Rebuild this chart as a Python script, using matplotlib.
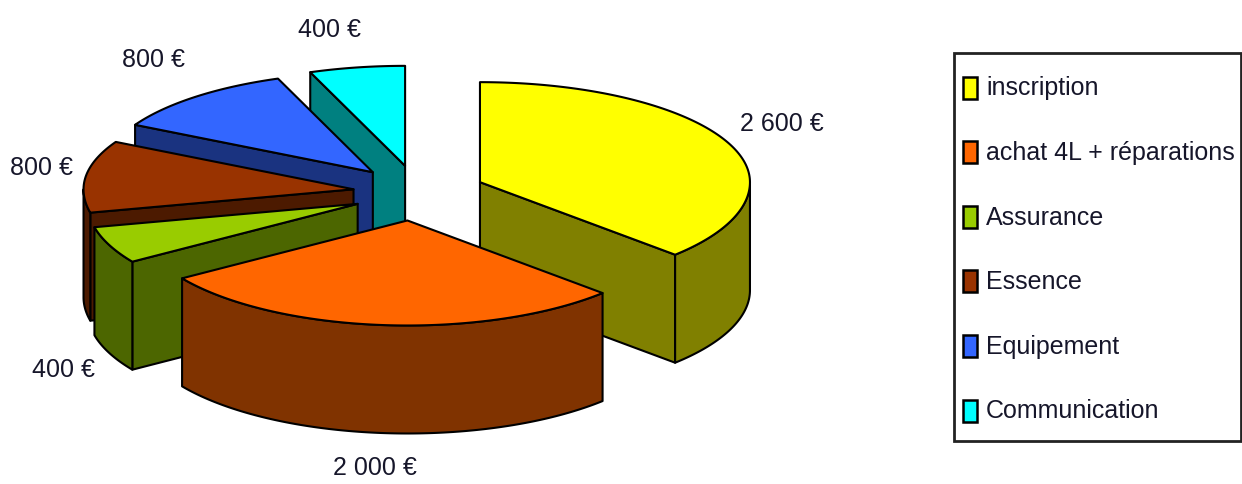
import numpy as np
import matplotlib
matplotlib.use("Agg")
import matplotlib.pyplot as plt
from matplotlib.patches import Polygon, Rectangle

categories = ["inscription", "achat 4L + réparations", "Assurance", "Essence", "Equipement", "Communication"]
values = [2600, 2000, 400, 800, 800, 400]
value_labels = ["2 600 €", "2 000 €", "400 €", "800 €", "800 €", "400 €"]
top_colors = ["#FFFF00", "#FF6600", "#99CC00", "#993300", "#3366FF", "#00FFFF"]
side_colors = ["#808000", "#803300", "#4C6600", "#4C1A00", "#1A3380", "#008080"]
explode_x = [75, 40, 58, 58, 58, 33]
explode_y = 74.5
draw_order = [5, 4, 3, 2, 0, 1]
label_anchor = [(782, 124), (375, 468), (63, 370), (41, 168), (153, 60), (330, 30)]

CX, CY, RX, RY_BACK, RY_FRONT, DEPTH = 411, 194, 270, 100, 105, 108
FONT = ["Liberation Sans", "DejaVu Sans"]
TEXT = "#16162a"

fig = plt.figure(figsize=(12.42, 4.85), dpi=100)
ax = fig.add_axes([0, 0, 1, 1])
ax.set_xlim(0, 1242)
ax.set_ylim(485, 0)
ax.axis("off")

vals = np.array(values, dtype=float)
edges = np.concatenate([[0], np.cumsum(vals) / vals.sum() * 360])


def arc(ax_, ay_, a0, a1):
    t = np.radians(np.linspace(a0, a1, max(int(abs(a1 - a0)) * 2, 2)))
    c = np.cos(t)
    return np.column_stack([ax_ + RX * np.sin(t), ay_ - np.where(c >= 0, RY_BACK, RY_FRONT) * c])


def add(pts, color, z):
    ax.add_patch(Polygon(pts, closed=True, facecolor=color, edgecolor="black", lw=1.5, joinstyle="round", zorder=z))


z = 1
for i in draw_order:
    a0, a1 = edges[i], edges[i + 1]
    mid = np.radians((a0 + a1) / 2)
    px = CX + explode_x[i] * np.sin(mid)
    py = CY - explode_y * RY_BACK / RX * np.cos(mid)
    apex = np.array([px, py])
    down = np.array([0, DEPTH])
    # radial walls: the one at a0 faces a0-90, the one at a1 faces a1+90
    for a, normal in ((a0, a0 - 90), (a1, a1 + 90)):
        if np.cos(np.radians(normal)) < -1e-6:
            rim = arc(px, py, a, a)[0]
            add([apex, rim, rim + down, apex + down], side_colors[i], z)
            z += 1
    # outer wall where the rim faces the viewer
    lo, hi = max(a0, 90), min(a1, 270)
    if hi > lo:
        rim = arc(px, py, lo, hi)
        add(np.vstack([rim, (rim + down)[::-1]]), side_colors[i], z)
        z += 1
    add(np.vstack([[apex], arc(px, py, a0, a1)]), top_colors[i], z)
    z += 1

for (x, y), s in zip(label_anchor, value_labels):
    ax.text(x, y, s, ha="center", va="center", fontsize=18, family=FONT, color=TEXT, zorder=50)

ax.add_patch(Rectangle((954, 54), 287, 388, facecolor="white", edgecolor="#222222", lw=2, zorder=40))
for k, (name, col) in enumerate(zip(categories, top_colors)):
    y = 88.5 + k * 64.6
    ax.add_patch(Rectangle((963, y - 11), 14, 22, facecolor=col, edgecolor="black", lw=1.8, zorder=41))
    ax.text(986, y, name, ha="left", va="center", fontsize=18, family=FONT, color=TEXT, zorder=42)

fig.savefig("out.png", dpi=100)
